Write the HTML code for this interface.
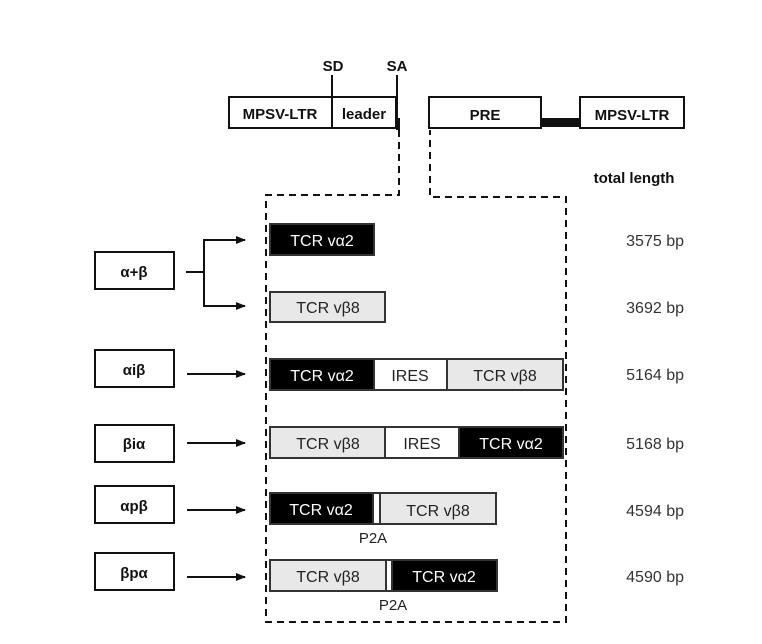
<!DOCTYPE html>
<html><head><meta charset="utf-8"><style>html,body{margin:0;padding:0;background:#fff}svg{display:block}</style></head>
<body>
<svg width="762" height="644" viewBox="0 0 762 644" xmlns="http://www.w3.org/2000/svg" font-family="Liberation Sans, Arial, sans-serif">
<defs><marker id="a" markerWidth="10" markerHeight="10" refX="9" refY="5" orient="auto" markerUnits="userSpaceOnUse"><path d="M0,1 L10,5 L0,9 Z" fill="#111"/></marker></defs>
<g stroke="#111" stroke-width="2" fill="#fff">
<rect x="229" y="97" width="103" height="31"/>
<rect x="332" y="97" width="64" height="31"/>
<rect x="429" y="97" width="112" height="31"/>
<rect x="580" y="97" width="104" height="31"/>
</g>
<rect x="541" y="118" width="39" height="9" fill="#111"/>
<rect x="396" y="118" width="4" height="12" fill="#111"/>
<line x1="332" y1="75" x2="332" y2="128" stroke="#111" stroke-width="2"/>
<line x1="397" y1="75" x2="397" y2="120" stroke="#111" stroke-width="2"/>
<path d="M399,130 V195 H266 V622 H566 V197 H430 V130" fill="none" stroke="#111" stroke-width="2" stroke-dasharray="7,5"/>
<g stroke="#111" stroke-width="2" fill="#fff">
<rect x="95" y="252" width="79" height="37"/>
<rect x="95" y="350" width="79" height="37"/>
<rect x="95" y="425" width="79" height="37"/>
<rect x="95" y="486" width="79" height="37"/>
<rect x="95" y="553" width="79" height="37"/>
</g>
<g font-weight="bold" font-size="15" fill="#111" text-anchor="middle">
<text x="333" y="71">SD</text><text x="397" y="71">SA</text>
<text x="280" y="119">MPSV-LTR</text><text x="364" y="119">leader</text>
<text x="485" y="120">PRE</text><text x="632" y="120">MPSV-LTR</text>
<text x="634" y="183">total length</text>
<text x="134" y="277">α+β</text><text x="134" y="375">αiβ</text><text x="134" y="449">βiα</text>
<text x="134" y="511">αpβ</text><text x="134" y="578">βpα</text>
</g>
<g stroke="#111" stroke-width="2" fill="none">
<path d="M186,272 H204 V240 H245" marker-end="url(#a)"/>
<path d="M204,272 V306 H245" marker-end="url(#a)"/>
<line x1="187" y1="374" x2="245" y2="374" marker-end="url(#a)"/>
<line x1="187" y1="443" x2="245" y2="443" marker-end="url(#a)"/>
<line x1="187" y1="510" x2="245" y2="510" marker-end="url(#a)"/>
<line x1="187" y1="577" x2="245" y2="577" marker-end="url(#a)"/>
</g>
<g stroke="#333" stroke-width="2">
<rect x="270" y="224" width="104" height="31" fill="#000"/>
<rect x="270" y="292" width="115" height="30" fill="#e8e8e8"/>
<rect x="270" y="359" width="104" height="31" fill="#000"/>
<rect x="374" y="359" width="73" height="31" fill="#fff"/>
<rect x="447" y="359" width="116" height="31" fill="#e8e8e8"/>
<rect x="270" y="427" width="115" height="31" fill="#e8e8e8"/>
<rect x="385" y="427" width="74" height="31" fill="#fff"/>
<rect x="459" y="427" width="104" height="31" fill="#000"/>
<rect x="270" y="493" width="103" height="31" fill="#000"/>
<rect x="373" y="493" width="7" height="31" fill="#fff"/>
<rect x="380" y="493" width="116" height="31" fill="#e8e8e8"/>
<rect x="270" y="560" width="116" height="31" fill="#e8e8e8"/>
<rect x="386" y="560" width="6" height="31" fill="#fff"/>
<rect x="392" y="560" width="105" height="31" fill="#000"/>
</g>
<g font-size="16" text-anchor="middle">
<text x="322" y="246" fill="#fff">TCR vα2</text>
<text x="328" y="313" fill="#222">TCR vβ8</text>
<text x="322" y="381" fill="#fff">TCR vα2</text>
<text x="410" y="381" fill="#222">IRES</text>
<text x="505" y="381" fill="#222">TCR vβ8</text>
<text x="328" y="449" fill="#222">TCR vβ8</text>
<text x="422" y="449" fill="#222">IRES</text>
<text x="511" y="449" fill="#fff">TCR vα2</text>
<text x="321" y="515" fill="#fff">TCR vα2</text>
<text x="438" y="516" fill="#222">TCR vβ8</text>
<text x="328" y="582" fill="#222">TCR vβ8</text>
<text x="444" y="582" fill="#fff">TCR vα2</text>
<text x="373" y="543" fill="#222" font-size="15">P2A</text>
<text x="393" y="610" fill="#222" font-size="15">P2A</text>
</g>
<g font-size="16" fill="#333" text-anchor="end">
<text x="684" y="246">3575 bp</text><text x="684" y="313">3692 bp</text>
<text x="684" y="380">5164 bp</text><text x="684" y="449">5168 bp</text>
<text x="684" y="516">4594 bp</text><text x="684" y="582">4590 bp</text>
</g>
</svg>
</body></html>
